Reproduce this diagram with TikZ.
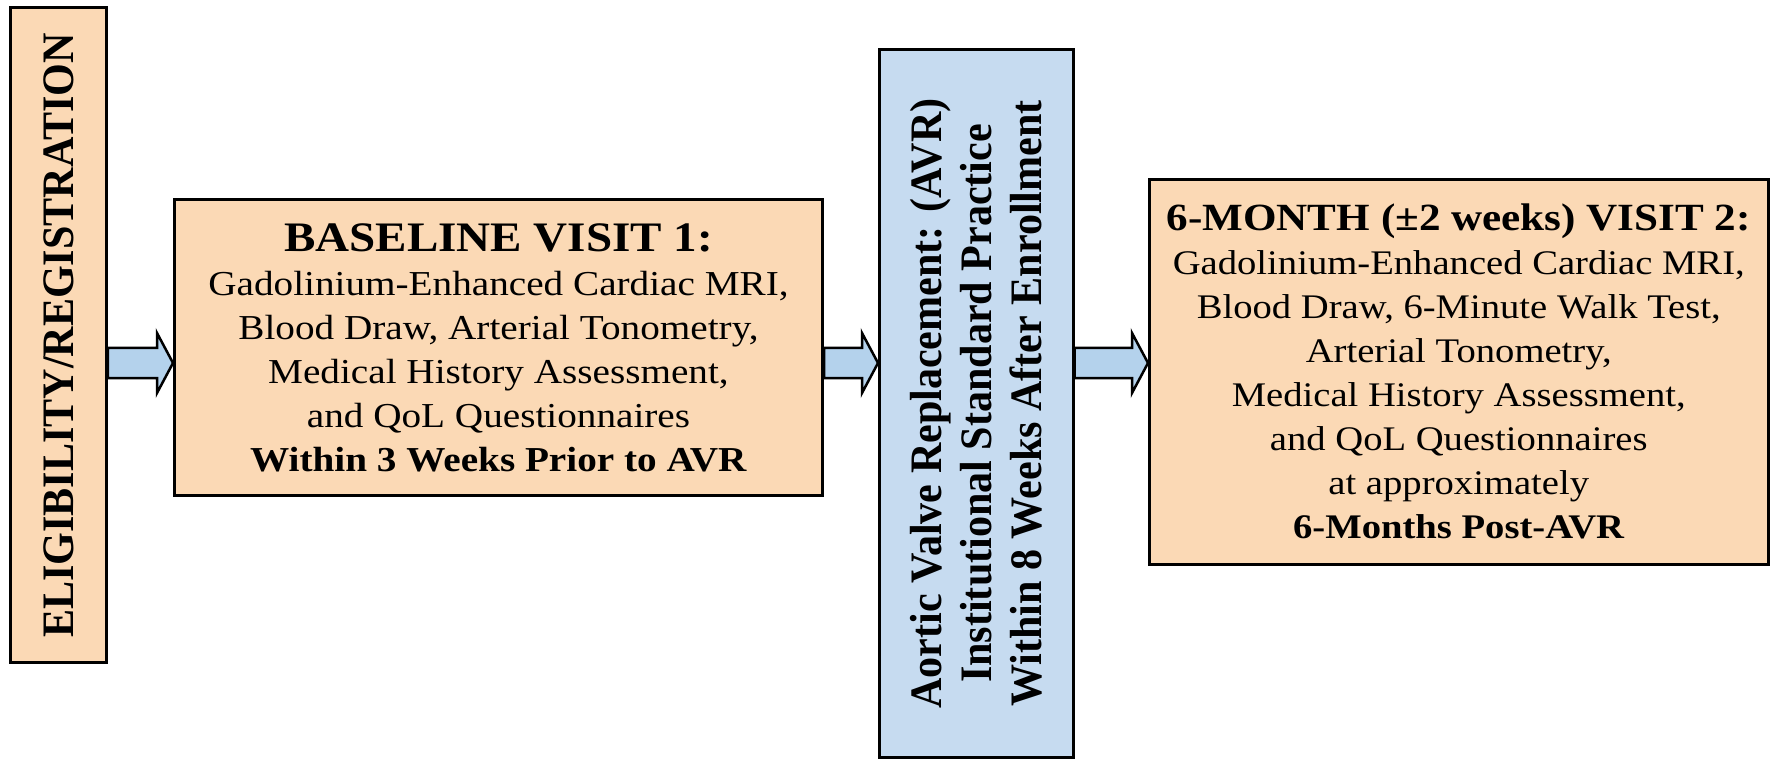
\documentclass[tikz,border=0pt]{standalone}
\usepackage{fontspec}
\setmainfont{Liberation Serif}
\newfontfamily\hfont[FakeStretch=1.12]{Liberation Serif}
\newfontfamily\vfont[FakeStretch=0.935]{Liberation Serif}
\usetikzlibrary{calc}
\definecolor{peach}{HTML}{FBD9B5}
\definecolor{paleblue}{HTML}{C6DBF0}
\definecolor{arrowblue}{HTML}{B4D2EC}
\tikzset{
  box/.style={draw=black, line width=3pt, inner sep=0pt, align=center},
  peachbox/.style={box, fill=peach},
  bluebox/.style={box, fill=paleblue},
  blockarrow/.style={draw=black, line width=2.5pt, fill=arrowblue, line join=miter},
}
\newcommand\blockarr[2]{%
  \draw[blockarrow] let \p1=(#1), \p2=(#2), \p3=(ay) in
    (\x1,\y3+15pt) -- (\x2-16pt,\y3+15pt) -- (\x2-16pt,\y3+30pt) -- (\x2,\y3)
    -- (\x2-16pt,\y3-30pt) -- (\x2-16pt,\y3-15pt) -- (\x1,\y3-15pt) -- cycle;}
\begin{document}
\begin{tikzpicture}[x=1pt,y=-1pt]
\useasboundingbox (0,0) rectangle (1773,759);
\coordinate (ay) at (0,363);
\node[peachbox, rotate=90, minimum width=654.8pt, minimum height=95.6pt,
  font=\vfont\bfseries\fontsize{45}{50}\selectfont] (elig) at (58.5,335.4)
  {ELIGIBILITY/REGISTRATION};
\node[peachbox, minimum width=648pt, minimum height=296pt,
  font=\hfont\fontsize{35}{44}\selectfont] (base) at (498.5,347.5)
  {{\fontsize{42}{44}\selectfont\bfseries BASELINE VISIT 1:}\\
   Gadolinium-Enhanced Cardiac MRI,\\
   Blood Draw, Arterial Tonometry,\\
   Medical History Assessment,\\
   and QoL Questionnaires\\
   \textbf{Within 3 Weeks Prior to AVR}};
\node[bluebox, rotate=90, minimum width=708pt, minimum height=193.5pt,
  font=\vfont\bfseries\fontsize{45}{50}\selectfont] (avr) at (976.25,403.5)
  {Aortic Valve Replacement: (AVR)\\
   Institutional Standard Practice\\
   Within 8 Weeks After Enrollment};
\node[peachbox, minimum width=618.5pt, minimum height=384.5pt,
  font=\hfont\fontsize{34.5}{44}\selectfont] (six) at (1458.75,371.75)
  {{\fontsize{38.5}{44}\selectfont\bfseries 6-MONTH (±2 weeks) VISIT 2:}\\
   Gadolinium-Enhanced Cardiac MRI,\\
   Blood Draw, 6-Minute Walk Test,\\
   Arterial Tonometry,\\
   Medical History Assessment,\\
   and QoL Questionnaires\\
   at approximately\\
   \textbf{6-Months Post-AVR}};
\blockarr{elig.south}{base.west}
\blockarr{base.east}{avr.north}
\blockarr{avr.south}{six.west}
\end{tikzpicture}
\end{document}
